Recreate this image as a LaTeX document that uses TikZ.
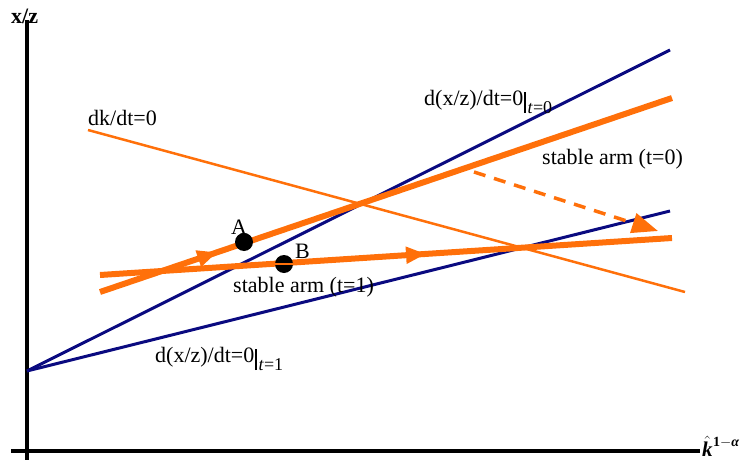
\documentclass[tikz,border=0pt]{standalone}
\usepackage{fontspec}
\setmainfont{Liberation Serif}
\usetikzlibrary{arrows.meta,decorations.markings}
\definecolor{navyline}{RGB}{10,10,128}
\definecolor{orng}{RGB}{255,112,10}
\newcommand{\evalsub}[1]{\hspace{1pt}\raisebox{-8pt}{\rule{1.3pt}{21pt}}\hspace{2pt}\raisebox{-8pt}{\fontsize{18}{18}\selectfont\textit{t}=#1}}
\begin{document}
\begin{tikzpicture}[x=1pt,y=-1pt,
  axisline/.style={line width=4pt,black},
  blueline/.style={line width=3pt,navyline},
  thinorange/.style={line width=2.5pt,orng},
  armline/.style={line width=6pt,orng},
  lbl/.style={font=\fontsize{22}{24}\selectfont,inner sep=0pt,anchor=base west},
  dotpt/.style={circle,fill=black,minimum size=18pt,inner sep=0pt},
  midarrow/.style={postaction={decorate},decoration={markings,mark=at position #1 with {\arrow{Triangle[length=20pt,width=16pt]}}}}]
\useasboundingbox (0,0) rectangle (740,466);
% axes
\coordinate (ytop) at (27,20);
\coordinate (ybot) at (27,460);
\coordinate (xl) at (11,451);
\coordinate (xr) at (700,451);
\draw[axisline] (ytop) -- (ybot);
\draw[axisline] (xl) -- (xr);
% blue lines
\coordinate (o) at (27,371);
\coordinate (b0) at (670,50);
\coordinate (b1) at (670,211);
\draw[blueline] (o) -- (b0);
\draw[blueline] (o) -- (b1);
% dk/dt=0
\coordinate (k0) at (88,130);
\coordinate (k1) at (685,292);
\draw[thinorange] (k0) -- (k1);
% stable arms
\coordinate (s0a) at (100,292);
\coordinate (s0b) at (672,98);
\coordinate (s1a) at (100,275);
\coordinate (s1b) at (672,238);
\draw[armline,midarrow=0.205] (s0a) -- (s0b);
\draw[armline,midarrow=0.57] (s1a) -- (s1b);
% dashed shift arrow
\coordinate (d0) at (474,172);
\coordinate (d1) at (658,231);
\draw[orng,line width=3.5pt,dash pattern=on 12pt off 9pt,-{Triangle[length=26pt,width=20pt]}] (d0) -- (d1);
% points
\node[dotpt] (A) at (244,242) {};
\node[dotpt] (B) at (284,264) {};
\draw[orng,line width=2pt] (B.west) -- (B.east);
% labels
\node[lbl,font=\fontsize{22}{24}\selectfont\bfseries] (lxz) at (11,23) {x/z};
\node[lbl] (ldk) at (88,125) {dk/dt=0};
\node[lbl] (l0) at (424,105) {d(x/z)/dt=0\evalsub{0}};
\node[lbl] (ls0) at (542,164) {stable arm (t=0)};
\node[lbl] (lA) at (231,234) {A};
\node[lbl] (lB) at (295,258) {B};
\node[lbl] (ls1) at (233,292) {stable arm (t=1)};
\node[lbl] (l1) at (155,362) {d(x/z)/dt=0\evalsub{1}};
\node[lbl,font=\fontsize{21}{22}\selectfont] (lk) at (702,456) {$\hat{\textbf{\textit{k}}}$};
\node[lbl,font=\fontsize{14}{16}\selectfont\bfseries] (lkexp) at (713,446) {1$-$\textit{α}};
\end{tikzpicture}
\end{document}
